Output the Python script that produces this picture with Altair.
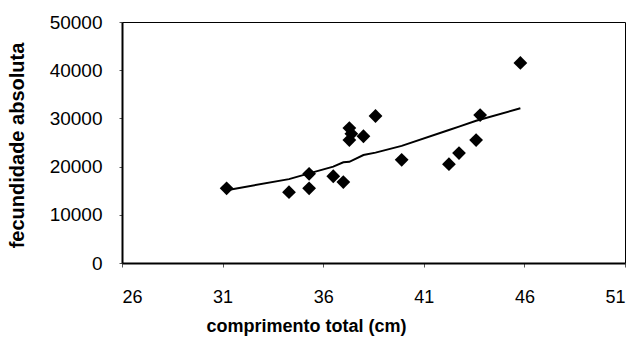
import altair as alt
import pandas as pd

comprimento = [31.2, 34.3, 35.3, 35.3, 36.5, 37.0, 37.3, 37.4, 37.3, 38.0, 38.6, 39.9, 42.25, 42.75, 43.6, 43.8, 45.8]
fecundidade = [15500, 14700, 18500, 15500, 18000, 16800, 28000, 26800, 25500, 26300, 30500, 21400, 20500, 22800, 25500, 30700, 41500]

linha_x = [31.2, 34.3, 35.3, 36.5, 37.0, 37.3, 38.0, 38.6, 39.9, 42.25, 42.75, 43.6, 45.8]
linha_y = [15100, 17400, 18600, 20000, 20900, 21000, 22400, 22900, 24300, 27600, 28300, 29500, 32100]

pts = pd.DataFrame({"x": comprimento, "y": fecundidade})
lin = pd.DataFrame({"x": linha_x, "y": linha_y})

xscale = alt.Scale(domain=[26, 51], nice=False, zero=False)
yscale = alt.Scale(domain=[0, 50000], nice=False)

xaxis = alt.Axis(values=[26, 31, 36, 41, 46, 51], title="comprimento total (cm)", format="d",
                 labelFont="Liberation Sans", labelFontSize=18, labelColor="black",
                 labelPadding=21, tickSize=4, tickColor="#555", domainColor="black", domainWidth=2,
                 grid=False, titleFont="Liberation Sans", titleFontSize=18, titleFontWeight="bold",
                 titleColor="black", titleX=184, titleY=63, titleBaseline="middle", titleAlign="center")
yaxis = alt.Axis(values=[0, 10000, 20000, 30000, 40000, 50000], title="fecundidade absoluta", format="d",
                 labelFont="Liberation Sans", labelFontSize=19, labelColor="black",
                 labelPadding=17, tickSize=3, tickColor="#555", domainColor="black", domainWidth=2,
                 grid=False, titleFont="Liberation Sans", titleFontSize=20, titleFontWeight="bold",
                 titleColor="black", titleX=-105, titleY=123, titleAngle=-90,
                 titleBaseline="middle", titleAlign="center")

points = alt.Chart(pts).mark_point(shape="diamond", filled=True, color="black", size=190, opacity=1).encode(
    x=alt.X("x:Q", scale=xscale, axis=xaxis),
    y=alt.Y("y:Q", scale=yscale, axis=yaxis),
)
line = alt.Chart(lin).mark_line(color="black", strokeWidth=2).encode(
    x=alt.X("x:Q", scale=xscale),
    y=alt.Y("y:Q", scale=yscale),
)

chart = alt.layer(line, points).properties(
    width=503, height=241,
    padding={"left": 122, "top": 22, "right": 13, "bottom": 85},
    autosize="none",
    background="white",
).configure_view(stroke="black", strokeWidth=1)

chart.save("out.html", embed_options={"renderer": "svg", "actions": False})
